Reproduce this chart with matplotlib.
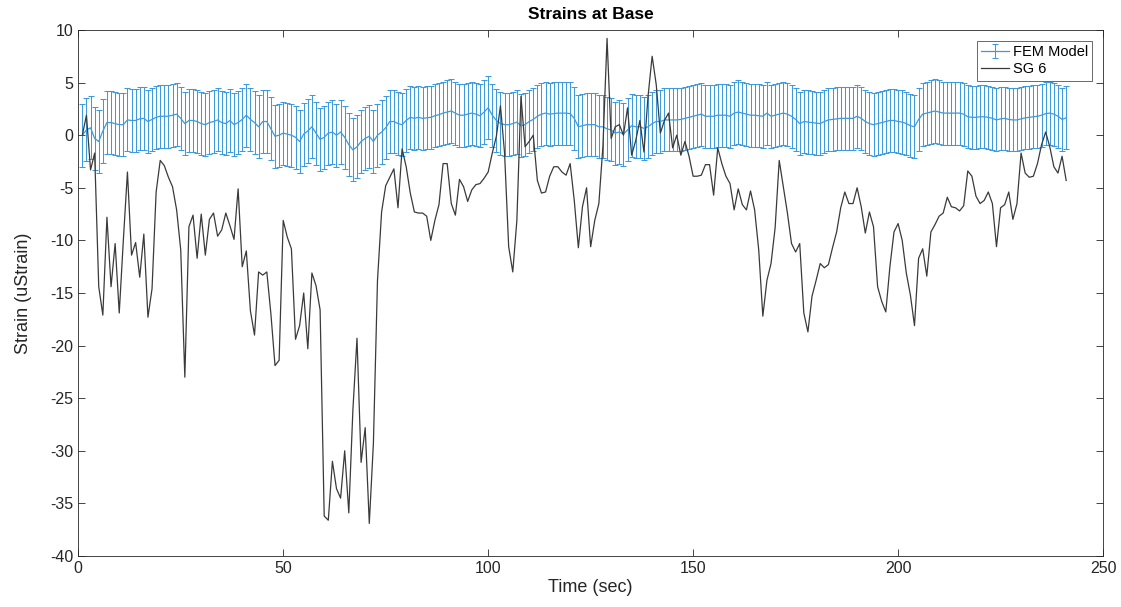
import numpy as np
import matplotlib
matplotlib.use("Agg")
import matplotlib.pyplot as plt

plt.rcParams['font.family'] = ['Liberation Sans', 'DejaVu Sans']
plt.rcParams['axes.unicode_minus'] = False

# Time axis (seconds)
time_s = np.arange(1, 242)

# Strain gauge SG 6 measurements (uStrain)
sg6 = [
    0.0, 1.9, -3.3, -1.7, -14.4, -17.1, -7.8, -14.4, -10.3, -16.9,
    -10.0, -3.5, -11.4, -10.2, -13.5, -9.4, -17.3, -14.6, -5.4, -2.4,
    -2.9, -4.0, -4.9, -7.1, -10.9, -23.0, -8.7, -7.6, -11.7, -7.5,
    -11.4, -8.0, -7.4, -9.6, -9.0, -7.4, -8.6, -9.9, -5.1, -12.5,
    -11.0, -16.7, -19.0, -13.0, -13.3, -13.0, -17.0, -21.9, -21.4, -8.1,
    -9.7, -10.8, -19.4, -18.1, -15.0, -20.3, -13.1, -14.3, -16.6, -36.2,
    -36.6, -31.0, -33.6, -34.5, -30.0, -35.9, -26.1, -19.3, -31.1, -27.8,
    -36.9, -29.3, -13.8, -7.3, -4.8, -4.0, -3.2, -6.9, -1.3, -3.0,
    -5.5, -7.3, -7.4, -7.4, -7.7, -10.0, -8.1, -6.6, -2.7, -2.7,
    -6.5, -7.6, -4.2, -4.9, -6.3, -5.2, -4.7, -4.6, -4.1, -3.5,
    -1.7, -0.1, 2.8, -1.7, -10.6, -13.0, -8.1, 3.7, -1.1, -0.6,
    0.0, -4.3, -5.5, -5.4, -3.9, -3.0, -3.0, -3.5, -3.8, -2.7,
    -6.2, -10.7, -6.8, -5.0, -10.6, -8.1, -6.5, -1.0, 9.2, -0.3,
    0.8, 1.0, 0.0, 2.6, -1.9, -0.5, 1.4, -1.6, 3.7, 7.5,
    4.8, 0.2, 1.4, 2.1, -1.2, 0.0, -1.9, -0.6, -2.0, -3.9,
    -3.9, -3.8, -2.8, -2.8, -5.7, -1.2, -2.7, -3.9, -4.6, -7.1,
    -5.1, -6.6, -7.1, -5.3, -7.1, -10.9, -17.2, -13.8, -12.2, -8.8,
    -2.4, -4.9, -7.4, -10.3, -11.1, -10.3, -16.9, -18.7, -15.3, -13.8,
    -12.2, -12.6, -12.3, -10.7, -9.2, -6.9, -5.4, -6.5, -6.5, -5.0,
    -6.8, -9.3, -7.3, -8.7, -14.4, -15.8, -16.8, -12.5, -9.2, -8.4,
    -10.0, -13.1, -15.2, -18.1, -11.7, -10.8, -13.4, -9.2, -8.5, -7.7,
    -7.4, -5.9, -6.8, -6.9, -7.2, -6.7, -3.4, -3.9, -5.8, -6.5,
    -6.2, -5.4, -6.5, -10.6, -6.9, -6.6, -5.4, -8.0, -6.5, -1.7,
    -3.6, -4.0, -3.9, -2.7, -0.9, 0.3, -1.1, -3.0, -3.6, -2.0,
    -4.3,
]

# FEM model prediction (uStrain) and its uncertainty band
fem_mean = [
    0.0, 0.5, 0.7, -0.3, -0.6, 0.4, 1.2, 1.2, 1.1, 1.0,
    1.0, 1.45, 1.4, 1.4, 1.55, 1.6, 1.3, 1.5, 1.7, 1.8,
    1.8, 1.8, 1.9, 2.0, 1.6, 1.1, 1.4, 1.4, 1.3, 1.1,
    1.0, 1.2, 1.3, 1.45, 1.2, 1.1, 1.4, 1.0, 1.2, 1.5,
    1.9, 1.5, 1.2, 0.8, 1.3, 1.3, 0.6, -0.1, 0.0, 0.2,
    0.1, 0.0, -0.2, -0.6, 0.1, 0.4, 0.8, 0.2, -0.4, -0.2,
    0.2, 0.3, 0.0, 0.3, -0.2, -0.9, -1.4, -1.1, -0.6, -0.3,
    -0.1, -0.6, 0.0, 0.3, 0.7, 1.3, 1.3, 1.1, 1.0, 1.4,
    1.7, 1.6, 1.7, 1.6, 1.65, 1.7, 1.85, 1.95, 2.1, 2.2,
    2.3, 2.1, 1.9, 1.9, 2.0, 2.1, 2.0, 1.85, 2.2, 2.6,
    1.9, 1.4, 1.1, 1.0, 1.0, 1.1, 1.25, 0.9, 1.0, 1.3,
    1.5, 1.8, 2.0, 2.1, 2.0, 2.05, 2.1, 2.1, 2.1, 2.05,
    1.6, 0.8, 0.9, 1.0, 1.0, 1.0, 0.8, 0.8, 0.6, 0.5,
    0.2, 0.3, 0.1, 0.5, 0.9, 0.8, 0.8, 0.65, 0.8, 1.1,
    1.3, 1.3, 1.45, 1.45, 1.45, 1.45, 1.5, 1.6, 1.7, 1.8,
    1.9, 2.0, 1.8, 1.8, 1.8, 1.9, 1.9, 1.9, 1.8, 2.1,
    2.2, 2.1, 2.0, 1.9, 1.9, 1.85, 1.8, 2.1, 1.8, 1.9,
    2.0, 2.1, 2.0, 1.8, 1.5, 1.1, 1.3, 1.25, 1.2, 1.15,
    1.1, 1.3, 1.45, 1.5, 1.55, 1.6, 1.6, 1.6, 1.6, 1.8,
    1.6, 1.3, 1.1, 1.0, 1.1, 1.2, 1.3, 1.4, 1.4, 1.3,
    1.25, 1.1, 0.9, 0.8, 1.5, 2.0, 2.1, 2.2, 2.3, 2.2,
    2.1, 2.1, 2.1, 2.1, 2.1, 2.0, 1.75, 1.7, 1.7, 1.75,
    1.75, 1.7, 1.6, 1.45, 1.55, 1.6, 1.5, 1.45, 1.45, 1.55,
    1.65, 1.7, 1.75, 1.8, 1.9, 2.05, 2.1, 2.0, 1.8, 1.5,
    1.65,
]
fem_err = 3.0

x_ticks = [0, 50, 100, 150, 200, 250]
y_ticks = [-40, -35, -30, -25, -20, -15, -10, -5, 0, 5, 10]

fig = plt.figure(figsize=(11.21, 6.07), dpi=100)
ax = fig.add_axes([0.0698, 0.084, 0.9142, 0.8666])

blue = '#3d9ade'
fem = ax.errorbar(time_s, fem_mean, yerr=fem_err, color=blue, lw=0.9,
                  elinewidth=0.75, capsize=2.2, capthick=0.75,
                  label='FEM Model', zorder=2)
sg, = ax.plot(time_s, sg6, color='#3a3a3a', lw=0.9, label='SG 6', zorder=3)

ax.set_xlim(0, 250)
ax.set_ylim(-40, 10)
ax.set_xticks(x_ticks)
ax.set_yticks(y_ticks)
ax.tick_params(direction='in', length=5, width=0.6, colors='#262626',
               labelsize=11.5, top=True, right=True, labelcolor='#262626')
for s in ax.spines.values():
    s.set_color('#262626')
    s.set_linewidth(0.6)

ax.set_title('Strains at Base', fontsize=12.5, fontweight='bold', pad=8)
ax.set_xlabel('Time (sec)', fontsize=13, color='#262626', labelpad=2)
ax.set_ylabel('Strain (uStrain)', fontsize=13, color='#262626', labelpad=13)

leg = ax.legend([fem, sg], ['FEM Model', 'SG 6'], loc='upper right',
                fontsize=10.5, frameon=True, fancybox=False,
                edgecolor='#262626', borderaxespad=0.75, handlelength=1.9,
                borderpad=0.3, labelspacing=0.2, handletextpad=0.25)
leg.get_frame().set_linewidth(0.6)

fig.savefig('out.png', dpi=100)
